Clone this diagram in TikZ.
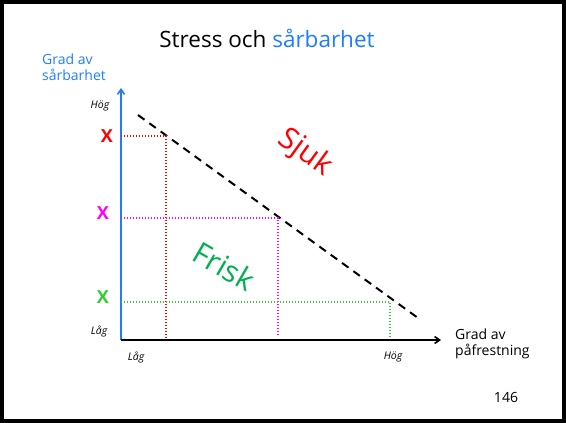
\documentclass[tikz,border=0pt]{standalone}
\usepackage{fontspec}
\setmainfont{Open Sans}
\usetikzlibrary{arrows.meta}
\definecolor{tblue}{RGB}{30,125,255}
\definecolor{tred}{RGB}{255,0,0}
\definecolor{tmag}{RGB}{255,0,255}
\definecolor{tgreen}{RGB}{0,176,80}
\definecolor{lgreen}{RGB}{51,204,51}
\tikzset{
  dotline/.style={line width=1.4pt, dash pattern=on 1.4pt off 1.6pt},
  small/.style={font=\fontsize{10.5}{12}\selectfont\itshape},
  lab/.style={font=\fontsize{14}{16}\selectfont, align=left},
  xmarker/.style={font=\fontsize{18}{18}\selectfont\bfseries},
  big/.style={font=\fontsize{30}{30}\selectfont}
}
\begin{document}
\begin{tikzpicture}[x=1pt,y=-1pt]
\useasboundingbox (0,0) rectangle (566,423);
\draw[line width=4pt] (2,2) rectangle (564,421);
% title
\node (title) at (267,38) {\fontsize{22.5}{23}\selectfont Stress och \textcolor{tblue}{sårbarhet}};
\node[lab, text=tblue, anchor=north west, inner sep=0pt] (ylab) at (42,54) {Grad av\\sårbarhet};
\node[lab, anchor=north west, inner sep=0pt] (xlab) at (455,329) {Grad av\\påfrestning};
% axes
\coordinate (O) at (121,340);
\coordinate (ytop) at (121,88);
\coordinate (xend) at (441,340);
\draw[tblue, line width=1.6pt, -{Straight Barb[length=5pt,width=7pt]}] (O) -- (ytop);
\draw[black, line width=1.6pt, -{Straight Barb[length=5pt,width=7pt]}] (O) -- (xend);
% axis tick labels
\node[small] (yhog) at (100,106) {Hög};
\node[small] (ylag) at (99,331) {Låg};
\node[small] (xlag) at (136,357) {Låg};
\node[small] (xhog) at (393,357) {Hög};
% dashed line
\coordinate (d1) at (138,115);
\coordinate (d2) at (418,318);
\draw[line width=2pt, dash pattern=on 8pt off 6pt] (d1) -- (d2);
% points
\coordinate (pr) at (166,136);
\coordinate (pm) at (278,218);
\coordinate (pg) at (390,302);
\coordinate (ar) at (121,136);
\coordinate (am) at (121,218);
\coordinate (ag) at (121,302);
\coordinate (br) at (166,340);
\coordinate (bm) at (278,336);
\coordinate (bg) at (390,338);
\draw[dotline, tred] (ar) -- (pr) -- (br);
\draw[dotline, tmag] (am) -- (pm) -- (bm);
\draw[dotline, lgreen] (ag) -- (pg) -- (bg);
% markers
\node[xmarker, text=tred] (xr) at (107,136) {X};
\node[xmarker, text=tmag] (xm) at (103,213) {X};
\node[xmarker, text=lgreen] (xg) at (103,297) {X};
% region labels
\node[big, text=tred, rotate=-36] (sjuk) at (305,153) {Sjuk};
\node[big, text=tgreen, rotate=-30] (frisk) at (224,266) {Frisk};
% page number
\node[font=\fontsize{14}{14}\selectfont] (pnum) at (506,397) {146};
\end{tikzpicture}
\end{document}
